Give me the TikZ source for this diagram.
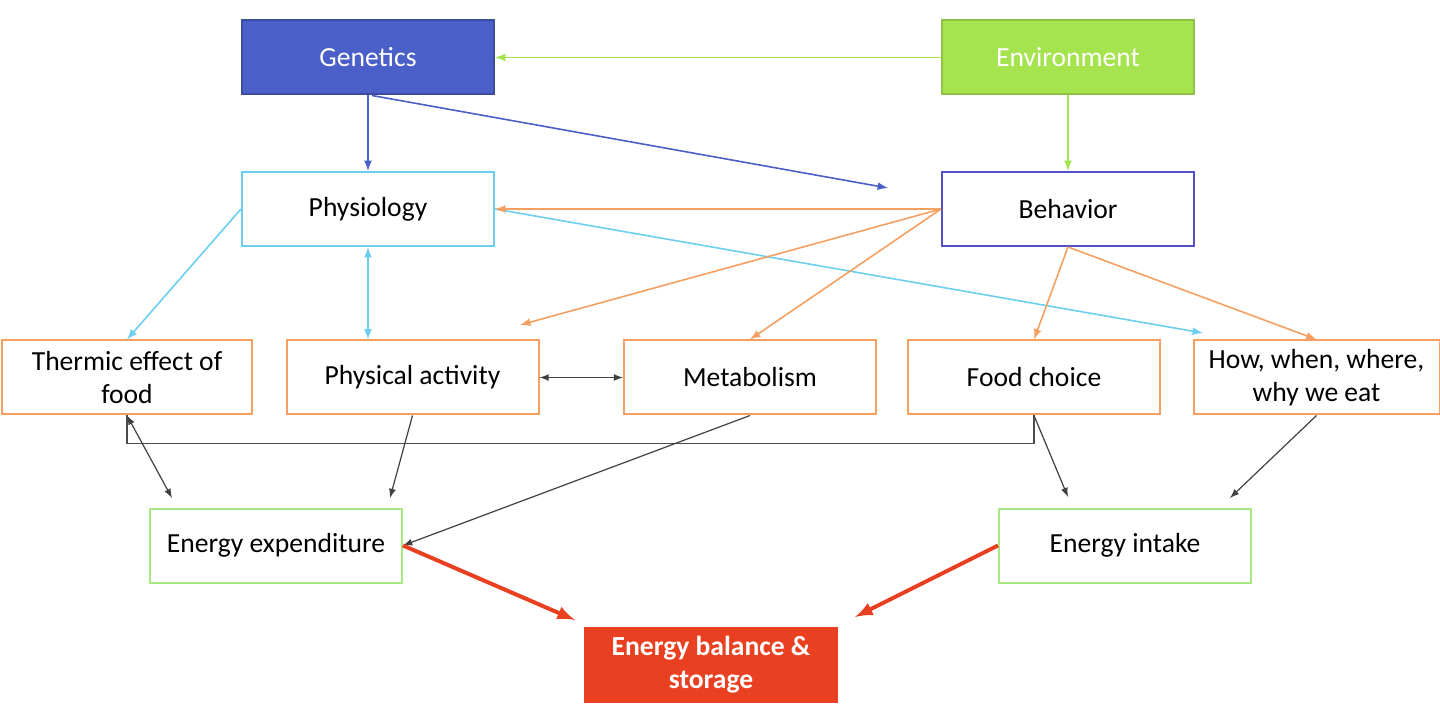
\documentclass[tikz,border=0pt]{standalone}
\usepackage{fontspec}
\setmainfont{Carlito}
\begin{document}
\begin{tikzpicture}[x=0.5pt,y=-0.5pt,
 box/.style={draw,line width=1pt,minimum width=126pt,minimum height=37pt,inner sep=1pt,align=center,font=\fontsize{13.8}{16.5}\selectfont},
 tip/.style={-latex},
 blk/.style={black!75,line width=0.6pt,-latex}]
\definecolor{gblue}{HTML}{4A5FC7}
\definecolor{egreen}{HTML}{A5E34F}
\definecolor{lblue}{HTML}{6CCFF0}
\definecolor{bblue}{HTML}{5050C8}
\definecolor{orng}{HTML}{F5A060}
\definecolor{lgrn}{HTML}{A8E880}
\definecolor{red1}{HTML}{E84020}
\useasboundingbox (0,0) rectangle (1440,705);
\node[box,fill=gblue,draw=gblue!80!black,text=white] (gen) at (368,57.5) {Genetics};
\node[box,fill=egreen,draw=egreen!85!black,text=white] (env) at (1068,57.5) {Environment};
\node[box,draw=lblue] (phy) at (368,209) {Physiology};
\node[box,draw=bblue] (beh) at (1068,209) {Behavior};
\node[box,draw=orng,minimum width=125pt] (tef) at (127,377.5) {Thermic effect of\\food};
\node[box,draw=orng] (pa) at (412.5,377.5) {Physical activity};
\node[box,draw=orng] (met) at (750,377.5) {Metabolism};
\node[box,draw=orng] (fc) at (1034,377.5) {Food choice};
\node[box,draw=orng,minimum width=123pt] (how) at (1316.5,377.5) {How, when, where,\\why we eat};
\node[box,draw=lgrn] (ee) at (276,545.5) {Energy expenditure};
\node[box,draw=lgrn] (ei) at (1125,545.5) {Energy intake};
\node[box,fill=red1,draw=red1,text=white,font=\bfseries\fontsize{13.8}{16.5}\selectfont] (eb) at (711,664.5) {Energy balance \&\\storage};
\coordinate (g1) at (888,188);
\coordinate (p1) at (1203,333);
\coordinate (b1) at (520,325);
% green
\draw[egreen,line width=0.8pt,tip] (env.west) -- (gen.east);
\draw[egreen,line width=0.8pt,tip] (env.south) -- (beh.north);
% blue
\draw[gblue,line width=0.8pt,tip] (gen.south) -- (phy.north);
\draw[gblue,line width=0.8pt,tip] (gen.south)++(4,0) -- (g1);
% light blue
\draw[lblue,line width=0.8pt,tip] (phy.west) -- (tef.north);
\draw[lblue,line width=0.8pt,latex-latex] (phy.south) -- (pa.north -| phy.south);
\draw[lblue,line width=0.8pt,tip] (phy.east) -- (p1);
% orange
\draw[orng,line width=0.8pt,tip] (beh.west) -- (phy.east);
\draw[orng,line width=0.8pt,tip] (beh.west) -- (b1);
\draw[orng,line width=0.8pt,tip] (beh.west) -- (met.north);
\draw[orng,line width=0.8pt,tip] (beh.south) -- (fc.north);
\draw[orng,line width=0.8pt,tip] (beh.south) -- (how.north);
% black
\draw[blk,latex-latex] (pa.east) -- (met.west);
\draw[black!70,line width=0.6pt] (fc.south) -- ++(0,28) -| (tef.south);
\draw[blk,latex-latex] (tef.south) -- (172,498);
\draw[blk] (pa.south) -- (390,498);
\draw[blk] (met.south) -- (ee.east);
\draw[blk] (fc.south) -- (1068,497);
\draw[blk] (how.south) -- (1230,498);
% red
\draw[red1,line width=2pt,-latex] (ee.east) -- (575,620);
\draw[red1,line width=2pt,-latex] (ei.west) -- (855,617);
\end{tikzpicture}
\end{document}
